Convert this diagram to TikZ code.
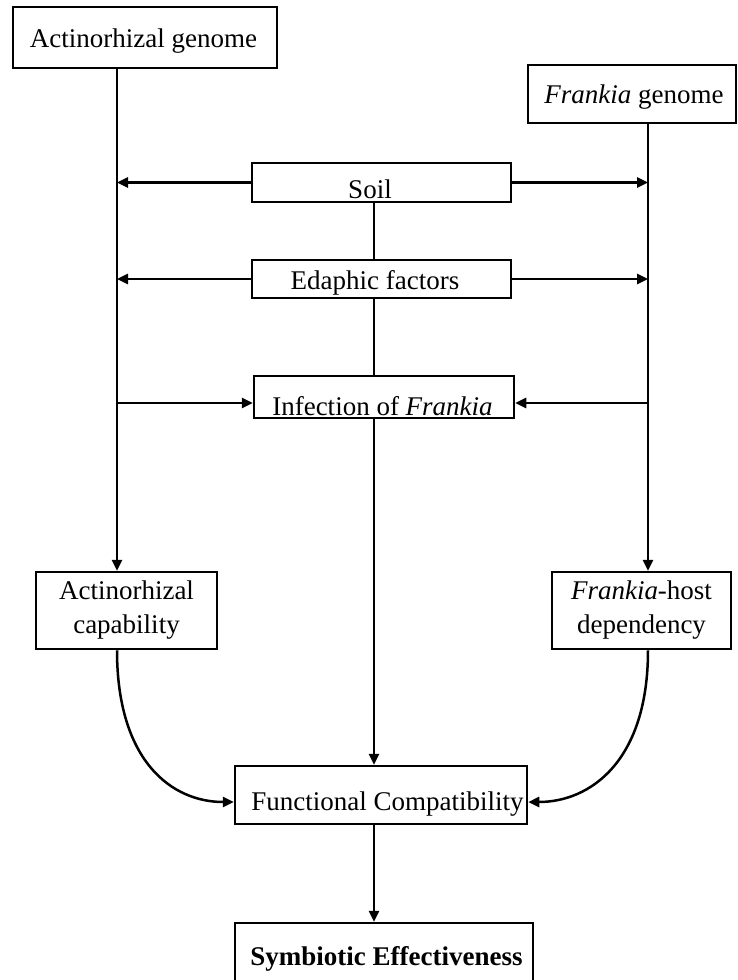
\documentclass[tikz,border=0pt]{standalone}
\usepackage{fontspec}
\setmainfont{Liberation Serif}
\usetikzlibrary{arrows.meta}
\begin{document}
\begin{tikzpicture}[x=1pt,y=-1pt,
  box/.style={draw, line width=2.5pt, inner sep=0pt},
  ln/.style={line width=2.5pt},
  arr/.style={ln, -{Triangle[length=11pt,width=10pt]}},
  txt/.style={font=\fontsize{27}{34}\selectfont, inner sep=0pt, anchor=base},
  twoline/.style={font=\fontsize{27}{34}\selectfont, align=center}]
\useasboundingbox (0,0) rectangle (737,980);
% boxes
\node[box, minimum width=264pt, minimum height=61pt] (agen) at (145,37.5) {};
\node[txt] (agenT) at (143.5,47) {Actinorhizal genome};
\node[box, minimum width=208pt, minimum height=58pt] (fgen) at (632,94) {};
\node[txt] (fgenT) at (634,103) {\textit{Frankia} genome};
\node[box, minimum width=259pt, minimum height=39pt] (soil) at (381.5,182.5) {};
\node[txt] (soilT) at (370,198) {Soil};
\node[box, minimum width=259pt, minimum height=38pt] (eda) at (381.5,279) {};
\node[txt] (edaT) at (375,289) {Edaphic factors};
\node[box, minimum width=260pt, minimum height=42pt] (inf) at (384,397) {};
\node[txt] (infT) at (382.5,415) {Infection of \textit{Frankia}};
\node[box, twoline, minimum width=181pt, minimum height=77pt] (cap) at (126.5,610.5) {Actinorhizal\\capability};
\node[box, twoline, minimum width=179pt, minimum height=77pt] (dep) at (641.5,610.5) {\textit{Frankia}-host\\dependency};
\node[box, minimum width=292pt, minimum height=58pt] (fc) at (381,795) {};
\node[txt] (fcT) at (387.5,810) {Functional Compatibility};
\node[box, minimum width=298pt, minimum height=67pt] (sym) at (384,956.5) {};
\node[txt] (symT) at (386.5,965) {\textbf{Symbiotic Effectiveness}};
% guide coordinates
\coordinate (L) at (117,0);
\coordinate (R) at (648,0);
\coordinate (C) at (374,0);
\coordinate (iy) at (0,403);
\coordinate (fy) at (0,802);
% connectors
\draw[arr] (agen.south -| L) -- (cap.north -| L);
\draw[arr] (fgen.south -| R) -- (dep.north -| R);
\draw[arr] (soil.west) -- (soil.west -| L);
\draw[arr] (soil.east) -- (soil.east -| R);
\draw[arr] (eda.west) -- (eda.west -| L);
\draw[arr] (eda.east) -- (eda.east -| R);
\draw[arr] (L |- iy) -- (inf.west |- iy);
\draw[arr] (R |- iy) -- (inf.east |- iy);
\draw[ln] (soil.south -| C) -- (eda.north -| C);
\draw[ln] (eda.south -| C) -- (inf.north -| C);
\draw[arr] (inf.south -| C) -- (fc.north -| C);
\draw[arr] (fc.south -| C) -- (sym.north -| C);
\draw[arr] (cap.south -| L) .. controls +(0,111) and +(-62,0) .. (fc.west |- fy);
\draw[arr] (dep.south -| R) .. controls +(0,111) and +(62,0) .. (fc.east |- fy);
\end{tikzpicture}
\end{document}
